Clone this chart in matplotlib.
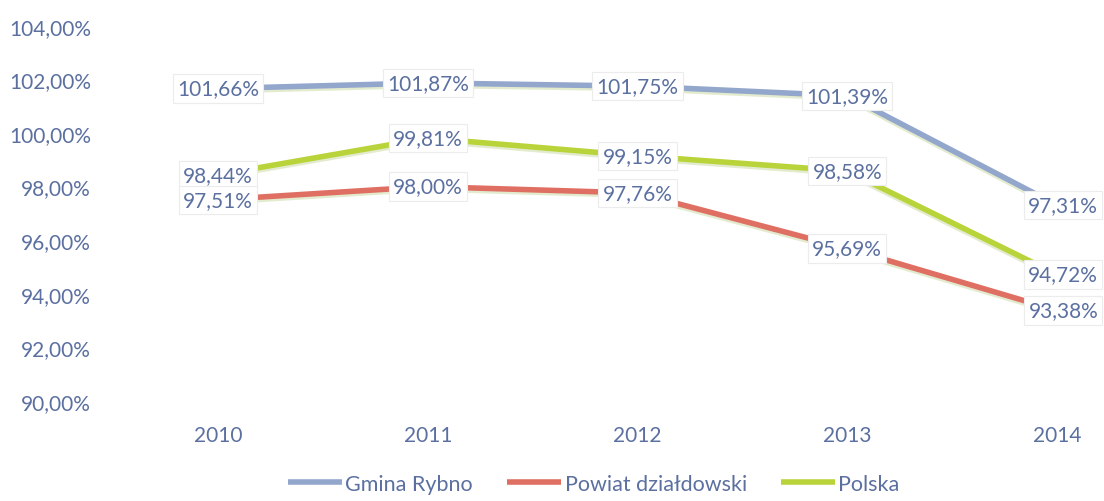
import matplotlib
matplotlib.use("Agg")
import matplotlib.pyplot as plt
import matplotlib.transforms as mtrans

years = ["2010", "2011", "2012", "2013", "2014"]
gmina = [101.66, 101.87, 101.75, 101.39, 97.31]
powiat = [97.51, 98.00, 97.76, 95.69, 93.38]
polska = [98.44, 99.81, 99.15, 98.58, 94.72]
series_names = ["Gmina Rybno", "Powiat działdowski", "Polska"]
yticks = [90, 92, 94, 96, 98, 100, 102, 104]

plt.rcParams['font.family'] = ['Lato', 'DejaVu Sans']
txt_color = "#5b70a0"
colors = ["#93a6cc", "#df6f62", "#b9d43a"]

fig = plt.figure(figsize=(11.04, 5.02), dpi=100)
ax = fig.add_axes([130/1104, 1 - 415/502, (1104-130)/1104, (415-10)/502])

x = list(range(len(years)))
shadow = ax.transData + mtrans.ScaledTranslation(0, -2/100, fig.dpi_scale_trans)
for vals, c, name in zip([gmina, powiat, polska], colors, series_names):
    ax.plot(x, vals, color="#c8d8a0", lw=4.5, alpha=0.5, zorder=1, transform=shadow)
    ax.plot(x, vals, color=c, lw=4, label=name, zorder=2, solid_capstyle='butt')

def fmt(v):
    return f"{v:.2f}".replace(".", ",") + "%"

for vals in [gmina, polska, powiat]:
    for xi, v in zip(x, vals):
        ax.text(xi + (0.03 if xi == 4 else 0), v, fmt(v), ha="center", va="center", fontsize=15,
                color=txt_color, zorder=5,
                bbox=dict(boxstyle="square,pad=0.2", fc="white", ec="#ececec", lw=0.8))

ax.set_xlim(-0.42, 4.224)
ax.set_ylim(89.51, 104.63)
ax.set_xticks(x)
ax.set_xticklabels(years)
ax.set_yticks(yticks)
ax.set_yticklabels([fmt(v) for v in yticks])
ax.tick_params(axis='both', length=0, labelsize=15, labelcolor=txt_color)
ax.tick_params(axis='y', pad=28)
ax.tick_params(axis='x', pad=8)
for s in ax.spines.values():
    s.set_visible(False)

fig.legend(loc="center", bbox_to_anchor=(0.538, 1 - 485/502), ncol=3, frameon=False,
           fontsize=15.5, labelcolor=txt_color, handlelength=2.5, handletextpad=0.15,
           columnspacing=1.6, borderpad=0.2)

fig.savefig("out.png", dpi=100, facecolor="white")
